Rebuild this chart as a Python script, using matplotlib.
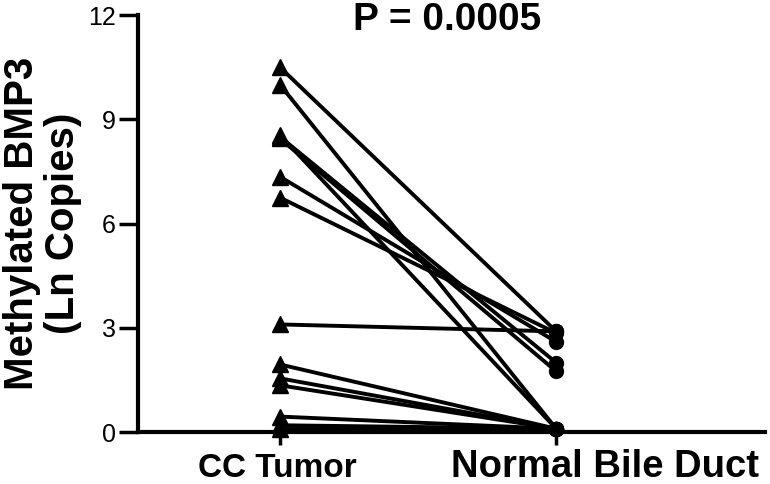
import matplotlib
matplotlib.use("Agg")
import matplotlib.pyplot as plt
import matplotlib.transforms as mtransforms

groups = ["CC Tumor", "Normal Bile Duct"]
tumor = [10.5, 10.0, 8.55, 8.5, 8.45, 7.35, 6.75, 3.1, 1.95, 1.55, 1.35, 0.45, 0.2, 0.1]
normal = [2.9, 0.1, 0.1, 2.0, 1.75, 2.6, 2.85, 2.9, 0.1, 0.1, 0.1, 0.1, 0.1, 0.1]
yticks = [0, 3, 6, 9, 12]
title = "P = 0.0005"

plt.rcParams['font.family'] = ['Liberation Sans', 'DejaVu Sans']
fig = plt.figure(figsize=(7.7, 4.84), dpi=100)
ax = fig.add_axes([0.179, 0.107, 0.815, 0.862])

for t, n in zip(tumor, normal):
    ax.plot([0, 1], [t, n], color='black', lw=2.8, zorder=2, solid_capstyle='butt')
ax.plot([0] * len(tumor), tumor, ls='none', marker='^', ms=11.5, color='black', zorder=3, clip_on=False)
ax.plot([1] * len(normal), normal, ls='none', marker='o', ms=10, color='black', zorder=3, clip_on=False)

ax.set_xlim(-0.514, 1.757)
ax.set_ylim(0, 12)
ax.set_yticks(yticks)
ax.set_yticklabels([str(v) for v in yticks], fontsize=18)
ax.set_xticks([0, 1])
ax.set_xticklabels(['', ''])

# category labels, positioned per the reference
trans0 = ax.get_xaxis_transform()
ax.text(0, 0, groups[0], transform=trans0 + mtransforms.ScaledTranslation(-2 / 100, -(477 - 432) / 100, fig.dpi_scale_trans),
        ha='center', va='baseline', fontsize=24, fontweight='bold')
ax.text(1, 0, groups[1], transform=trans0 + mtransforms.ScaledTranslation(49 / 100, -(477 - 432) / 100, fig.dpi_scale_trans),
        ha='center', va='baseline', fontsize=27.5, fontweight='bold')

for s in ['top', 'right']:
    ax.spines[s].set_visible(False)
for s in ['left', 'bottom']:
    ax.spines[s].set_linewidth(3)
ax.tick_params(axis='y', length=14, width=2.5, pad=2)
ax.tick_params(axis='x', length=9, width=2.5, pad=4)
ax.set_ylabel("Methylated BMP3\n(Ln Copies)", fontsize=29, fontweight='bold', labelpad=4, linespacing=1.1)
fig.text(447 / 770, 1 - 20 / 484, title, fontsize=28, fontweight='bold', ha='center', va='center')

fig.savefig("out.png", dpi=100)
